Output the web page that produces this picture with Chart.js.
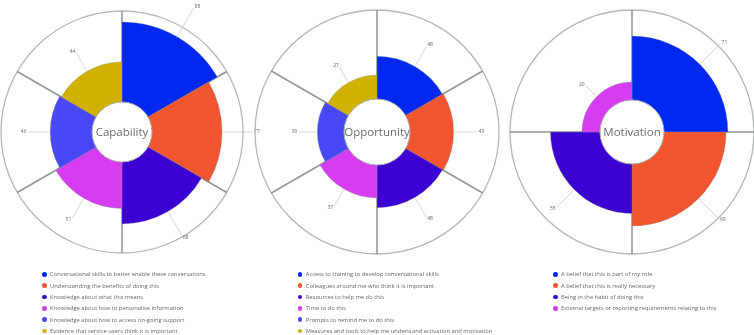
<!DOCTYPE html>
<html><head><meta charset="utf-8">
<script src="https://cdn.jsdelivr.net/npm/chart.js@4.4.1/dist/chart.umd.min.js"></script>
<style>
html,body{margin:0;padding:0;background:#fff;width:754px;height:335px;overflow:hidden;font-family:"Open Sans",sans-serif;}
canvas{position:absolute;left:0;top:0;}
.legend{position:absolute;top:269.3px;font-size:5.8px;color:#666;line-height:11.33px;}
.legend div{white-space:nowrap;height:11.33px;}
.legend span{display:inline-block;width:4.6px;height:4.6px;border-radius:50%;margin-right:3.5px;vertical-align:middle;position:relative;top:-0.5px;}
</style>
</head><body>
<canvas id="c1" width="754" height="335"></canvas>
<canvas id="c2" width="754" height="335"></canvas>
<canvas id="c3" width="754" height="335"></canvas>
<div class="legend" id="l1" style="left:42px"></div>
<div class="legend" id="l2" style="left:297.7px"></div>
<div class="legend" id="l3" style="left:553px"></div>
<script>
const palette = ['#0028f0','#f25631','#3d00d3','#d63cf2','#4848f8','#d2b200'];

const capabilityTitle = 'Capability';
const capabilityLabels = [
  'Conversational skills to better enable these conversations',
  'Understanding the benefits of doing this',
  'Knowledge about what this means',
  'Knowledge about how to personalise information',
  'Knowledge about how to access on-going support',
  'Evidence that service users think it is important'
];
const capabilityValues = [88, 77, 68, 51, 46, 44];

const opportunityTitle = 'Opportunity';
const opportunityLabels = [
  'Access to training to develop conversational skills',
  'Colleagues around me who think it is important',
  'Resources to help me do this',
  'Time to do this',
  'Prompts to remind me to do this',
  'Measures and tools to help me understand activation and motivation'
];
const opportunityValues = [48, 49, 48, 37, 30, 27];

const motivationTitle = 'Motivation';
const motivationLabels = [
  'A belief that this is part of my role',
  'A belief that this is really necessary',
  'Being in the habit of doing this',
  'External targets or reporting requirements relating to this'
];
const motivationValues = [71, 69, 55, 20];

const overlay = {
  id: 'overlay',
  afterDatasetsDraw(chart, args, opts) {
    const ctx = chart.ctx, sc = chart.scales.r, meta = chart.getDatasetMeta(0);
    const cx = sc.xCenter, cy = sc.yCenter;
    const values = chart.data.datasets[0].data;
    const holeR = sc.getDistanceFromCenterForValue(0);
    ctx.save();
    meta.data.forEach((arc, i) => {
      const p = arc.getProps(['startAngle','endAngle','outerRadius'], true);
      const mid = (p.startAngle + p.endAngle) / 2;
      const c = Math.cos(mid), s = Math.sin(mid);
      const r1 = p.outerRadius + 1, r2 = p.outerRadius * 1.3;
      ctx.strokeStyle = '#c2c6c6'; ctx.lineWidth = 0.7;
      ctx.beginPath(); ctx.moveTo(cx + c*r1, cy + s*r1); ctx.lineTo(cx + c*r2, cy + s*r2); ctx.stroke();
      ctx.fillStyle = '#666'; ctx.font = '5px "Open Sans"';
      ctx.textAlign = c > 0.2 ? 'left' : (c < -0.2 ? 'right' : 'center');
      ctx.textBaseline = 'middle';
      ctx.fillText(String(values[i]), cx + c*(r2+2), cy + s*(r2+2));
    });
    ctx.beginPath(); ctx.arc(cx, cy, holeR, 0, Math.PI*2);
    ctx.fillStyle = '#fff'; ctx.fill();
    ctx.strokeStyle = '#a9aeae'; ctx.lineWidth = 1; ctx.stroke();
    ctx.fillStyle = '#6a6f70'; ctx.font = '11.5px "Open Sans"';
    ctx.textAlign = 'center'; ctx.textBaseline = 'middle';
    ctx.fillText(opts.title, cx, cy + 0.5);
    ctx.restore();
  }
};

function makeChart(id, legendId, title, labels, values, g) {
  const min = -g.hole * 100 / (g.R - g.hole);
  new Chart(document.getElementById(id), {
    type: 'polarArea',
    data: { labels: labels, datasets: [{
      data: values,
      backgroundColor: palette.slice(0, values.length),
      borderColor: 'rgba(130,140,140,0.45)',
      borderWidth: 0.8
    }]},
    options: {
      responsive: false, animation: false,
      layout: { padding: { left: g.cx - g.R, top: g.cy - g.R, right: 754 - (g.cx + g.R), bottom: 335 - (g.cy + g.R) } },
      plugins: { legend: { display: false }, tooltip: { enabled: false }, overlay: { title: title } },
      scales: { r: {
        min: min, max: 100,
        ticks: { display: false },
        afterBuildTicks: (scale) => { scale.ticks = [{ value: scale.min }, { value: 100 }]; },
        grid: { color: '#b3b8b8', lineWidth: 1.3 },
        angleLines: { display: true, color: '#8e9696', lineWidth: 1.5 },
        pointLabels: { display: false }
      }}
    },
    plugins: [overlay]
  });
  const lg = document.getElementById(legendId);
  labels.forEach((t, i) => {
    const d = document.createElement('div');
    const s = document.createElement('span');
    s.style.background = palette[i];
    d.appendChild(s);
    d.appendChild(document.createTextNode(t));
    lg.appendChild(d);
  });
}

makeChart('c1', 'l1', capabilityTitle, capabilityLabels, capabilityValues, { cx: 122, cy: 132, R: 121, hole: 30 });
makeChart('c2', 'l2', opportunityTitle, opportunityLabels, opportunityValues, { cx: 377, cy: 132, R: 122, hole: 33 });
makeChart('c3', 'l3', motivationTitle, motivationLabels, motivationValues, { cx: 632, cy: 132, R: 122, hole: 32 });
</script>
</body></html>
